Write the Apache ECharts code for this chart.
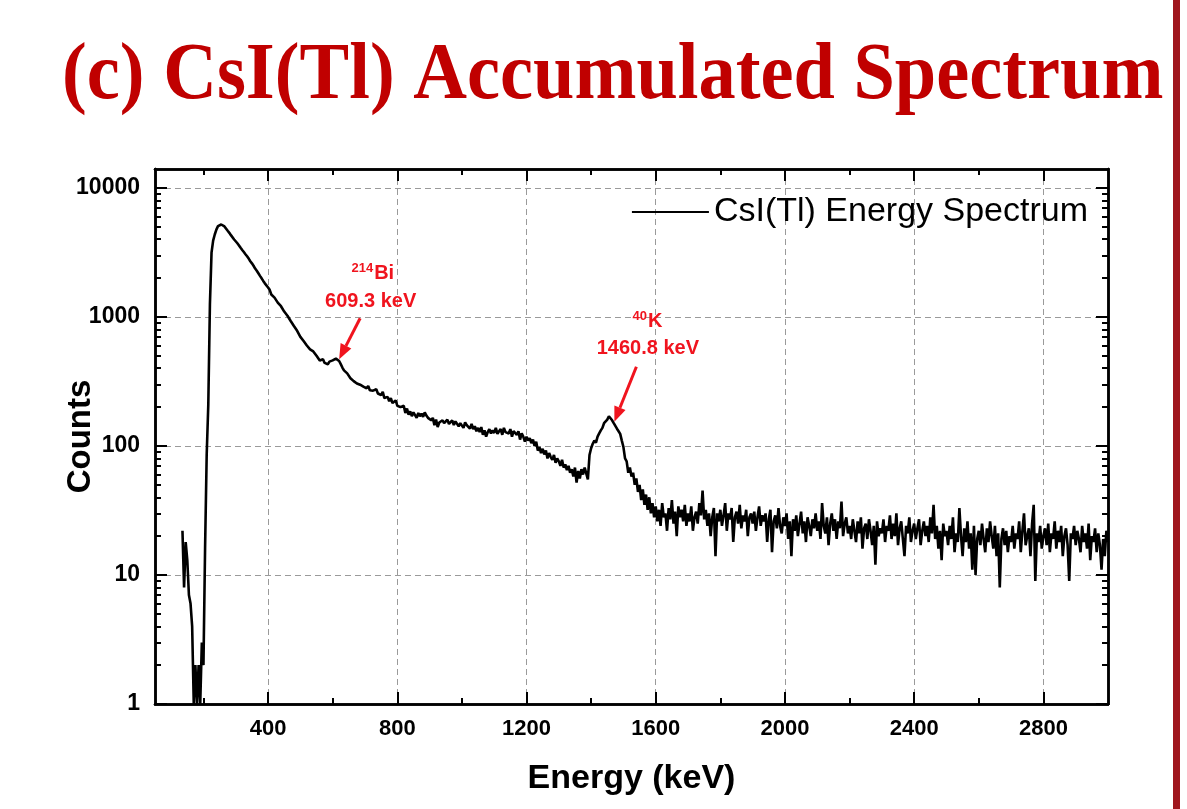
<!DOCTYPE html>
<html>
<head>
<meta charset="utf-8">
<style>
  html, body { margin: 0; padding: 0; background: #fff; }
  #chart { width: 1187px; height: 809px; }
</style>
<script src="https://cdn.jsdelivr.net/npm/echarts@6/dist/echarts.min.js"></script>
</head>
<body>
<div id="chart"></div>
<script>
// channel calibration of the spectrum (keV)
var energyStart = 135;
var energyStep = 5;

// counts per channel (135 keV ... 3000 keV)
var counts = [
  // 135-195
  22, 8, 18, 13, 7, 6, 4, 1, 2, 1, 2, 1, 3,
  // 200-295
  2, 16, 85, 210, 1250, 3150, 3900, 4350, 4750, 5050, 5230, 5200, 5150, 5020, 4850, 4650, 4480, 4300, 4150, 3980,
  // 300-395
  3860, 3720, 3580, 3430, 3300, 3180, 3060, 2950, 2830, 2700, 2600, 2490, 2370, 2280, 2180, 2080, 1990, 1900, 1820, 1760,
  // 400-495
  1690, 1620, 1490, 1480, 1410, 1370, 1290, 1280, 1210, 1170, 1100, 1075, 1020, 990, 930, 905, 850, 830, 780, 760,
  // 500-595
  700, 690, 650, 640, 600, 590, 560, 555, 540, 525, 500, 485, 460, 445, 470, 440, 455, 430, 450, 445,
  // 600-695
  460, 465, 475, 470, 455, 430, 405, 385, 380, 365, 355, 335, 330, 318, 322, 305, 310, 298, 302, 288,
  // 700-795
  290, 280, 292, 270, 278, 268, 262, 275, 255, 258, 248, 262, 235, 228, 240, 222, 235, 215, 208, 225,
  // 800-895
  205, 212, 200, 195, 205, 180, 195, 175, 185, 170, 182, 178, 165, 180, 170, 178, 168, 182, 172, 165,
  // 900-995
  170, 158, 165, 145, 160, 140, 152, 148, 158, 150, 155, 160, 148, 152, 158, 145, 155, 160, 142, 150,
  // 1000-1095
  148, 138, 152, 145, 140, 136, 148, 135, 142, 130, 138, 128, 140, 122, 132, 118, 128, 135, 125, 132,
  // 1100-1195
  126, 138, 124, 130, 135, 122, 138, 128, 132, 125, 135, 118, 130, 126, 122, 130, 112, 125, 118, 108,
  // 1200-1295
  118, 110, 115, 105, 112, 100, 108, 92, 98, 88, 95, 86, 92, 80, 88, 82, 78, 85, 74, 80,
  // 1300-1395
  76, 70, 78, 68, 72, 65, 70, 62, 66, 58, 68, 52, 64, 56, 66, 60, 68, 70, 55, 85,
  // 1400-1495
  96, 104, 110, 106, 118, 125, 132, 138, 150, 155, 160, 170, 164, 158, 150, 146, 136, 130, 124, 110,
  // 1500-1595
  98, 80, 76, 62, 68, 58, 62, 50, 56, 44, 50, 38, 46, 35, 42, 32, 40, 30, 36, 28,
  // 1600-1695
  34, 26, 32, 24, 36, 28, 30, 22, 33, 27, 38, 25, 31, 20, 34, 28, 32, 26, 35, 24,
  // 1700-1795
  30, 26, 34, 22, 28, 31, 25, 36, 29, 45, 27, 32, 24, 30, 20, 28, 33, 14, 30, 26,
  // 1800-1895
  32, 24, 29, 36, 22, 30, 27, 33, 18, 28, 31, 25, 35, 23, 29, 26, 32, 20, 28, 30,
  // 1900-1995
  25, 31, 22, 28, 34, 24, 29, 26, 30, 18, 27, 32, 15, 26, 29, 23, 33, 24, 21, 28,
  // 2000-2095
  24, 30, 19, 26, 14, 27, 22, 29, 20, 25, 31, 21, 26, 18, 28, 24, 20, 27, 23, 30,
  // 2100-2195
  22, 26, 19, 36, 24, 21, 28, 17, 25, 30, 22, 27, 19, 26, 23, 37, 20, 25, 28, 21,
  // 2200-2295
  24, 19, 27, 22, 18, 26, 21, 28, 16, 23, 25, 19, 27, 22, 17, 24, 12, 26, 20, 23,
  // 2300-2395
  21, 27, 18, 24, 22, 29, 19, 25, 20, 30, 17, 23, 26, 19, 14, 24, 21, 28, 18, 22,
  // 2400-2495
  25, 19, 23, 27, 17, 22, 26, 20, 24, 18, 28, 21, 35, 19, 24, 16, 22, 13, 25, 20,
  // 2500-2595
  22, 17, 24, 19, 28, 15, 21, 18, 33, 20, 14, 23, 18, 26, 16, 21, 11, 24, 10, 19,
  // 2600-2695
  22, 17, 25, 19, 15, 23, 18, 26, 20, 16, 24, 14, 21, 8, 19, 23, 17, 22, 15, 20,
  // 2700-2795
  18, 24, 16, 21, 19, 26, 15, 22, 30, 17, 20, 23, 14, 25, 35, 9, 21, 18, 24, 16,
  // 2800-2895
  20, 23, 17, 25, 15, 21, 19, 26, 16, 22, 18, 24, 14, 20, 23, 17, 9, 21, 19, 24,
  // 2900-3000
  17, 22, 19, 15, 24, 18, 21, 16, 25, 13, 20, 18, 23, 15, 21, 17, 11, 19, 14, 22, 18
];

var xMajorTicks = [400, 800, 1200, 1600, 2000, 2400, 2800];
var xMinorTicks = [200, 600, 1000, 1400, 1800, 2200, 2600];
var yMajorTicks = [1, 10, 100, 1000, 10000];
var yMinorTicks = [2, 3, 4, 5, 6, 7, 8, 9, 20, 30, 40, 50, 60, 70, 80, 90,
  200, 300, 400, 500, 600, 700, 800, 900, 2000, 3000, 4000, 5000, 6000, 7000, 8000, 9000];

// annotated peaks
var peakIsotopes = ['214', '40'];
var peakElements = ['Bi', 'K'];
var peakEnergies = ['609.3 keV', '1460.8 keV'];
var peakPoints = [[620, 470], [1472, 154]];

var seriesName = 'CsI(Tl) Energy Spectrum';
var chartTitle = '(c) CsI(Tl) Accumulated Spectrum';

var spectrum = counts.map(function (c, i) { return [energyStart + i * energyStep, c]; });

var sans = '"Liberation Sans", Arial, sans-serif';
var red = '#f0141e';

var chart = echarts.init(document.getElementById('chart'), null, { renderer: 'canvas' });

function plain(v) { return String(Math.round(v)); }

function xAxisDef(pos, ticks, len, labels, split) {
  return {
    type: 'value', position: pos, min: 50, max: 3000,
    axisLine: { show: true, onZero: false, lineStyle: { color: '#000', width: 2.5 } },
    axisTick: { show: true, inside: true, length: len, customValues: ticks, lineStyle: { color: '#000', width: 2 } },
    axisLabel: labels ? {
      show: true, customValues: ticks, margin: 14, color: '#000', fontSize: 22, fontWeight: 'bold', fontFamily: sans,
      formatter: plain
    } : { show: false },
    splitLine: { show: split, lineStyle: { color: '#9a9a9a', width: 1, type: [6, 4] } }
  };
}
function yAxisDef(pos, ticks, len, labels, split) {
  return {
    type: 'log', logBase: 10, position: pos, min: 1, max: 14000,
    axisLine: { show: true, onZero: false, lineStyle: { color: '#000', width: 2.5 } },
    axisTick: { show: true, inside: true, length: len, customValues: ticks, lineStyle: { color: '#000', width: 2 } },
    axisLabel: labels ? {
      show: true, customValues: ticks, margin: 15, color: '#000', fontSize: 23, fontWeight: 'bold', fontFamily: sans,
      formatter: plain
    } : { show: false },
    splitLine: { show: split, lineStyle: { color: '#9a9a9a', width: 1, type: [6, 4] } }
  };
}

var xAxes = [
  xAxisDef('bottom', xMajorTicks, 12, true, true),
  xAxisDef('bottom', xMinorTicks, 6, false, false),
  xAxisDef('top', xMajorTicks, 12, false, false),
  xAxisDef('top', xMinorTicks, 6, false, false)
];
xAxes[0].name = 'Energy (keV)';
xAxes[0].nameLocation = 'middle';
xAxes[0].nameGap = 58;
xAxes[0].nameMoveOverlap = false;
xAxes[0].nameTextStyle = { color: '#000', fontSize: 34, fontWeight: 'bold', fontFamily: sans };

var yAxes = [
  yAxisDef('left', yMajorTicks, 12, true, true),
  yAxisDef('left', yMinorTicks, 6, false, false),
  yAxisDef('right', yMajorTicks, 12, false, false),
  yAxisDef('right', yMinorTicks, 6, false, false)
];
yAxes[0].name = 'Counts';
yAxes[0].nameLocation = 'middle';
yAxes[0].nameRotate = 90;
yAxes[0].nameGap = 58;
yAxes[0].nameMoveOverlap = false;
yAxes[0].nameTextStyle = { color: '#000', fontSize: 33, fontWeight: 'bold', fontFamily: sans };

chart.setOption({
  animation: false,
  backgroundColor: '#fff',
  textStyle: { fontFamily: sans },
  grid: { left: 155, top: 169, width: 953, height: 535, show: false },
  legend: {
    data: [seriesName],
    right: 94, top: 190,
    icon: 'path://M0,0 L100,0 L100,10 L0,10 Z',
    symbolKeepAspect: false,
    itemWidth: 77, itemHeight: 2, itemGap: 10,
    itemStyle: { color: '#000' },
    textStyle: { color: '#000', fontSize: 34, fontFamily: sans }
  },
  xAxis: xAxes,
  yAxis: yAxes,
  series: [{
    name: seriesName,
    type: 'line',
    xAxisIndex: 0,
    yAxisIndex: 0,
    data: spectrum,
    symbol: 'none',
    clip: true,
    lineStyle: { color: '#000', width: 2.6 },
    itemStyle: { color: '#000' }
  }]
});

// title, side bar and peak annotations
var graphics = [
  {
    type: 'text', x: 62, y: 77, scaleX: 0.93, z: 10,
    style: { x: 0, y: 0, text: chartTitle, font: 'bold 80px "Liberation Serif", "Times New Roman", serif', fill: '#c00000', verticalAlign: 'middle' }
  },
  { type: 'rect', shape: { x: 1173, y: 0, width: 7, height: 809 }, style: { fill: '#a0161e' } }
];

peakPoints.forEach(function (p, i) {
  var tip = chart.convertToPixel({ xAxisIndex: 0, yAxisIndex: 0 }, p);
  var tail = i === 0 ? [tip[0] + 21, tip[1] - 41] : [tip[0] + 22, tip[1] - 55];
  var lab = i === 0 ? [tip[0] + 31.5, tip[1] - 58] : [tip[0] + 33.5, tip[1] - 73];
  var iso = i === 0 ? [tip[0] + 34, tip[1] - 86] : [tip[0] + 32.5, tip[1] - 100];
  var dx = tip[0] - tail[0], dy = tip[1] - tail[1];
  var len = Math.sqrt(dx * dx + dy * dy);
  var ux = dx / len, uy = dy / len;
  var hl = 15, hw = 6;
  var bx = tip[0] - ux * hl, by = tip[1] - uy * hl;
  graphics.push({
    type: 'line', z: 20,
    shape: { x1: tail[0], y1: tail[1], x2: bx, y2: by },
    style: { stroke: red, lineWidth: 3 }
  });
  graphics.push({
    type: 'polygon', z: 20,
    shape: { points: [[tip[0], tip[1]], [bx - uy * hw, by + ux * hw], [bx + uy * hw, by - ux * hw]] },
    style: { fill: red }
  });
  graphics.push({
    type: 'text', z: 20,
    style: { x: lab[0], y: lab[1], text: peakEnergies[i], font: 'bold 20px ' + sans, fill: red, align: 'center', verticalAlign: 'middle' }
  });
  graphics.push({
    type: 'text', z: 20,
    style: { x: iso[0], y: iso[1] - 5, text: peakIsotopes[i], font: 'bold 13px ' + sans, fill: red, align: 'right', verticalAlign: 'middle' }
  });
  graphics.push({
    type: 'text', z: 20,
    style: { x: iso[0] + 1, y: iso[1], text: peakElements[i], font: 'bold 20px ' + sans, fill: red, align: 'left', verticalAlign: 'middle' }
  });
});

chart.setOption({ graphic: graphics });
window.addEventListener('resize', function () { chart.resize(); });
</script>
</body>
</html>
